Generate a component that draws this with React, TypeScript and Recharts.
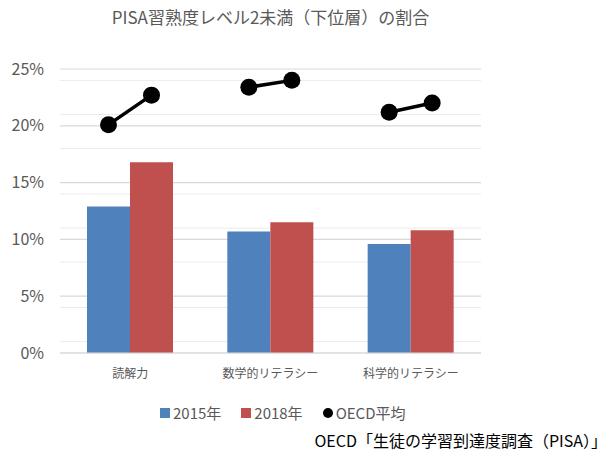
import { Bar, CartesianGrid, ComposedChart, Legend, XAxis, YAxis } from "recharts"

const categories = ["読解力", "数学的リテラシー", "科学的リテラシー"]
const y2015 = [12.9, 10.7, 9.6]
const y2018 = [16.8, 11.5, 10.8]
const oecd2015 = [20.1, 23.4, 21.2]
const oecd2018 = [22.7, 24.0, 22.0]
const yTicks = [0, 5, 10, 15, 20, 25]
const minorTicks = [1, 2, 3, 4, 6, 7, 8, 9, 11, 12, 13, 14, 16, 17, 18, 19, 21, 22, 23, 24]

const BLUE = "#4F81BD"
const RED = "#C0504D"
const GRAY = "#595959"
const FONT = "'Noto Sans CJK JP', 'Noto Sans', sans-serif"

const chartData = categories.map((name, i) => ({
  name,
  y2015: y2015[i],
  y2018: y2018[i],
  oecd2015: oecd2015[i],
  oecd2018: oecd2018[i],
}))

function FirstDot(props: any) {
  const { x, y, width } = props
  return <circle cx={x + width / 2} cy={y} r={8.5} fill="#000" />
}

function SecondDot(props: any) {
  const { x, y, width, height, payload } = props
  const perUnit = height / payload.oecd2018
  const prevY = y + height - payload.oecd2015 * perUnit
  const cx = x + width / 2
  const prevX = cx - width
  return (
    <g>
      <line x1={prevX} y1={prevY} x2={cx} y2={y} stroke="#000" strokeWidth={3.5} />
      <circle cx={cx} cy={y} r={8.5} fill="#000" />
    </g>
  )
}

function LegendContent() {
  const item = { display: "flex", alignItems: "center", marginRight: 20 }
  return (
    <div style={{ display: "flex", fontFamily: FONT, fontSize: 15, color: GRAY }}>
      <div style={item}>
        <span style={{ width: 10, height: 10, background: BLUE, marginRight: 3 }} />
        2015年
      </div>
      <div style={item}>
        <span style={{ width: 10, height: 10, background: RED, marginRight: 3 }} />
        2018年
      </div>
      <div style={item}>
        <span style={{ width: 10, height: 10, borderRadius: 5, background: "#000", marginRight: 3 }} />
        OECD平均
      </div>
    </div>
  )
}

export default function App() {
  return (
    <div style={{ position: "absolute", left: 0, top: 0, width: 613, height: 457, background: "#fff" }}>
      <div
        style={{
          position: "absolute",
          top: 4,
          left: 60,
          width: 421,
          textAlign: "center",
          fontFamily: FONT,
          fontSize: 17,
          color: GRAY,
        }}
      >
        PISA習熟度レベル2未満（下位層）の割合
      </div>
      <ComposedChart
        width={613}
        height={457}
        data={chartData}
        margin={{ top: 69, right: 132, left: 10, bottom: 74 }}
        barGap={0}
      >
        <CartesianGrid vertical={false} horizontalValues={minorTicks} stroke="#ebebeb" strokeWidth={1} />
        <CartesianGrid vertical={false} stroke="#d9d9d9" strokeWidth={1.2} />
        <XAxis
          dataKey="name"
          height={30}
          axisLine={{ stroke: "#d9d9d9" }}
          tickLine={false}
          tickMargin={10}
          tick={{ fill: GRAY, fontSize: 12, fontFamily: FONT }}
        />
        <XAxis xAxisId="oecd" dataKey="name" hide />
        <YAxis
          domain={[0, 25]}
          ticks={yTicks}
          width={50}
          axisLine={false}
          tickLine={false}
          tickSize={0}
          tickMargin={16}
          tickFormatter={(v: number) => `${v}%`}
          tick={{ fill: GRAY, fontSize: 16, fontFamily: FONT }}
        />
        <Bar dataKey="y2015" fill={BLUE} barSize={43} isAnimationActive={false} />
        <Bar dataKey="y2018" fill={RED} barSize={43} isAnimationActive={false} />
        <Bar xAxisId="oecd" dataKey="oecd2015" barSize={43} shape={FirstDot} isAnimationActive={false} />
        <Bar xAxisId="oecd" dataKey="oecd2018" barSize={43} shape={SecondDot} isAnimationActive={false} />
        <Legend
          content={LegendContent}
          verticalAlign="middle"
          wrapperStyle={{ position: "absolute", top: 402, left: 160, width: "auto" }}
        />
      </ComposedChart>
      <div
        style={{
          position: "absolute",
          top: 428,
          right: 6,
          fontFamily: FONT,
          fontSize: 16,
          color: "#000",
        }}
      >
        OECD「生徒の学習到達度調査（PISA）」
      </div>
    </div>
  )
}
